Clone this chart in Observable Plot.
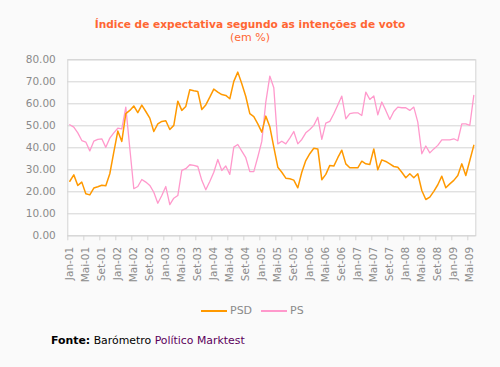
<!DOCTYPE html>
<html>
<head>
<meta charset="utf-8">
<script src="https://cdn.jsdelivr.net/npm/d3@7"></script>
<script src="https://cdn.jsdelivr.net/npm/@observablehq/plot@0.6"></script>
<style>
  html, body { margin: 0; padding: 0; background: #fafafa; }
  #wrap { position: relative; width: 500px; height: 367px; overflow: hidden; font-family: "DejaVu Sans", sans-serif; }
  #chart { position: absolute; left: 0; top: 0; }
  .title { position: absolute; left: 0; width: 500px; text-align: center; color: #ff6633; white-space: nowrap; }
  #t1 { top: 18px; font-size: 10.6px; font-weight: bold; }
  #t2 { top: 31px; font-size: 11px; }
  #legend { position: absolute; top: 304px; left: 201px; font-size: 11px; color: #8a8a8a; display: flex; align-items: center; white-space: nowrap; }
  #legend .sw { display: inline-block; width: 26px; height: 0; border-top: 2px solid; margin-right: 3px; }
  #legend .item { display: flex; align-items: center; margin-right: 9px; }
  #footer { position: absolute; top: 334px; left: 51px; font-size: 10.9px; color: #000; white-space: nowrap; }
  #footer .lnk { color: #5a005a; }
</style>
</head>
<body>
<div id="wrap">
  <div id="chart"></div>
  <div class="title" id="t1">Índice de expectativa segundo as intenções de voto</div>
  <div class="title" id="t2">(em %)</div>
  <div id="legend">
    <span class="item"><span class="sw" style="border-color:#ff9900"></span>PSD</span>
    <span class="item"><span class="sw" style="border-color:#ff99cc"></span>PS</span>
  </div>
  <div id="footer"><b>Fonte:</b> Barómetro <span class="lnk">Político Marktest</span></div>
</div>
<script>
// Month tick labels (every 4 months, starting at Jan-01; monthly data index 0 = Jan-01)
const tickLabels = ["Jan-01","Mai-01","Set-01","Jan-02","Mai-02","Set-02","Jan-03","Mai-03","Set-03",
  "Jan-04","Mai-04","Set-04","Jan-05","Mai-05","Set-05","Jan-06","Mai-06","Set-06",
  "Jan-07","Mai-07","Set-07","Jan-08","Mai-08","Set-08","Jan-09","Mai-09"];

// PSD monthly values (Jan-01 .. Jun-09)
const psd = [24.8,27.7,22.9,24.4,19.1,18.6,21.7,22.3,23.0,22.7,
  28.2,38.0,47.6,42.9,55.5,57.0,59.0,56.0,59.4,56.5,
  53.5,47.4,50.9,52.0,52.3,48.3,50.2,61.2,57.0,58.8,
  66.4,65.9,65.6,57.4,59.5,63.0,66.7,65.3,64.2,63.8,
  62.3,70.2,74.4,69.1,63.3,55.5,54.2,50.9,47.1,54.4,
  49.6,40.3,31.2,28.9,26.2,25.9,25.3,21.8,28.9,34.2,
  37.3,39.8,39.5,25.5,27.9,32.0,31.7,35.5,38.9,32.7,
  30.9,30.9,30.9,33.9,32.7,32.4,39.5,30.0,34.5,33.8,
  32.7,31.5,31.2,28.9,26.4,28.2,26.4,28.2,20.6,16.5,
  17.6,20.2,23.2,27.1,21.8,23.6,25.2,27.4,32.7,27.4,
  34.2,41.1];

// PS monthly values (Jan-01 .. Jun-09)
const ps = [50.5,49.4,46.8,43.3,42.6,38.6,43.0,43.8,44.1,40.2,
  44.4,46.8,48.9,48.6,58.5,39.8,21.4,22.4,25.6,24.4,
  22.9,19.8,14.8,18.3,22.4,14.2,17.1,18.3,29.7,30.5,
  32.3,32.0,31.5,25.2,20.9,24.7,28.9,34.7,29.7,31.7,
  27.9,40.3,41.5,38.5,35.5,29.2,29.2,35.8,42.9,60.8,
  72.6,67.3,41.8,43.0,41.8,44.4,47.4,41.8,43.8,46.8,
  48.3,50.2,53.9,43.8,51.2,52.0,55.5,59.5,63.5,53.2,
  55.5,55.9,55.9,54.7,65.3,62.0,63.6,55.0,60.8,57.0,
  52.9,56.5,58.5,58.2,58.2,57.0,58.5,51.7,37.3,40.8,
  37.7,39.5,41.1,43.6,43.6,43.6,44.1,43.2,50.9,50.9,
  50.2,63.8];

const yTicks = [0,10,20,30,40,50,60,70,80];

const n = psd.length;
const rows = d3.range(n).map(i => ({i, psd: psd[i], ps: ps[i]}));
const labelPos = tickLabels.map((_, k) => 4 * k);
const boundaryPos = tickLabels.map((_, k) => 4 * k - 0.5);

const chart = Plot.plot({
  width: 500,
  height: 367,
  marginLeft: 67.3,
  marginRight: 24.7,
  marginTop: 59.3,
  marginBottom: 131.7,
  style: {background: "transparent", fontFamily: "DejaVu Sans, sans-serif", fontSize: "10.5px", color: "#8a8a8a"},
  x: {type: "linear", domain: [-0.5, n - 0.5]},
  y: {domain: [0, 80]},
  marks: [
    Plot.frame({fill: "white", stroke: null}),
    Plot.gridY(yTicks, {stroke: "#d4d4d4", strokeOpacity: 1}),
    Plot.frame({stroke: "#d4d4d4", strokeOpacity: 1}),
    Plot.axisY(yTicks, {tickSize: 0, tickPadding: 12, tickFormat: d => d.toFixed(2), label: null, fill: "#8a8a8a"}),
    Plot.axisX(boundaryPos, {tickSize: 5, tickFormat: () => "", label: null, stroke: "#d4d4d4"}),
    Plot.axisX(labelPos, {tickSize: 0, tickPadding: 11, tickRotate: -90, tickFormat: (d, k) => tickLabels[k], label: null, fill: "#8a8a8a"}),
    Plot.line(rows, {x: "i", y: "ps", stroke: "#ff99cc", strokeWidth: 1.3}),
    Plot.line(rows, {x: "i", y: "psd", stroke: "#ff9900", strokeWidth: 1.5})
  ]
});
document.getElementById("chart").appendChild(chart);
</script>
</body>
</html>
